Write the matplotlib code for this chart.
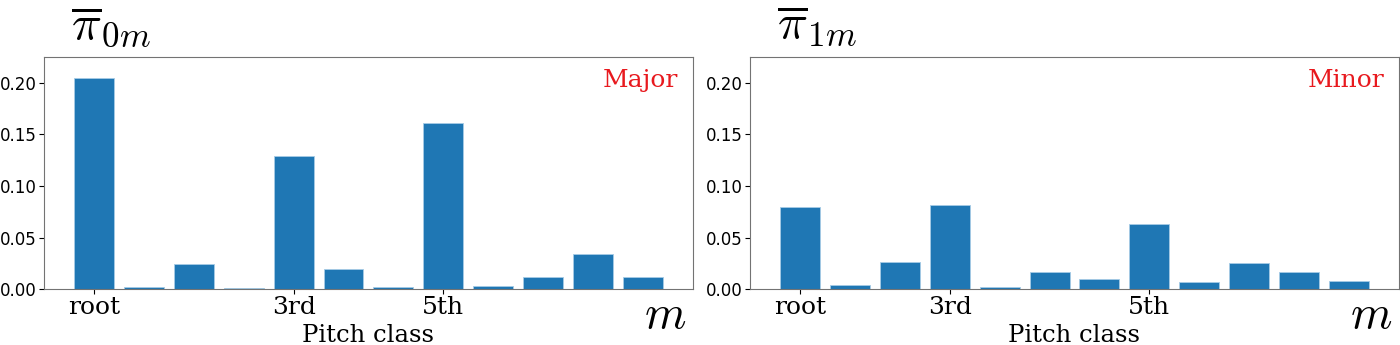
import matplotlib
matplotlib.use('Agg')
import matplotlib.pyplot as plt
import numpy as np

plt.rcParams['mathtext.fontset'] = 'cm'

# pitch classes 0..11
m = np.arange(12)
pi_major = [0.2045, 0.0026, 0.0246, 0.0010, 0.1285, 0.0200,
            0.0026, 0.1610, 0.0030, 0.0117, 0.0346, 0.0120]
pi_minor = [0.0800, 0.0039, 0.0262, 0.0812, 0.0020, 0.0168,
            0.0104, 0.0631, 0.0068, 0.0256, 0.0168, 0.0081]

major_ticks = [0, 4, 7]
minor_ticks = [0, 3, 7]
tick_names = ['root', '3rd', '5th']

fig = plt.figure(figsize=(14, 3.45), dpi=100)
ax1 = fig.add_axes([0.0314, 0.1614, 0.4636, 0.6743])
ax2 = fig.add_axes([0.5357, 0.1614, 0.4636, 0.6743])

panels = [(ax1, pi_major, major_ticks, 'Major', r'$\overline{\pi}_{0m}$'),
          (ax2, pi_minor, minor_ticks, 'Minor', r'$\overline{\pi}_{1m}$')]

for ax, vals, ticks, name, title in panels:
    ax.bar(m, vals, width=0.8, color='#1f77b4', edgecolor='#a6cbe6', linewidth=0.6)
    ax.set_xlim(-1, 12)
    ax.set_ylim(0, 0.225)
    ax.set_yticks([0.0, 0.05, 0.10, 0.15, 0.20])
    ax.set_yticklabels(['0.00', '0.05', '0.10', '0.15', '0.20'])
    ax.set_xticks(ticks)
    ax.set_xticklabels(tick_names, family='DejaVu Serif', fontsize=18)
    ax.tick_params(axis='y', labelsize=12, pad=2)
    ax.tick_params(axis='x', pad=1)
    for s in ax.spines.values():
        s.set_color('0.45')
    ax.set_xlabel('Pitch class', family='DejaVu Serif', fontsize=17.5, labelpad=4)
    ax.text(0.977, 0.945, name, transform=ax.transAxes, ha='right', va='top',
            color='#e8191e', family='DejaVu Serif', fontsize=18)
    ax.text(0.042, 1.035, title, transform=ax.transAxes, ha='left', va='bottom',
            fontsize=36)
    ax.text(0.99, -0.166, r'$m$', transform=ax.transAxes, ha='right', va='baseline',
            fontsize=34)

fig.savefig('out.png', dpi=100)
